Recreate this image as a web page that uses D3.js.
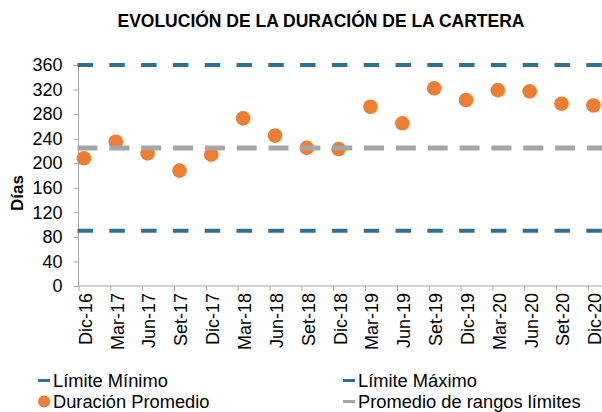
<!DOCTYPE html>
<html>
<head>
<meta charset="utf-8">
<script src="https://cdn.jsdelivr.net/npm/d3@7/dist/d3.min.js"></script>
<style>
  html, body { margin: 0; padding: 0; background: #fff; }
  svg { display: block; font-family: "Liberation Sans", Arial, sans-serif; }
</style>
</head>
<body>
<svg id="chart" width="602" height="412"></svg>
<script>
// ---- Data ----
const categories = ["Dic-16","Mar-17","Jun-17","Set-17","Dic-17","Mar-18","Jun-18","Set-18","Dic-18",
                    "Mar-19","Jun-19","Set-19","Dic-19","Mar-20","Jun-20","Set-20","Dic-20"];
const duracionPromedio = [208, 235, 216, 188, 214, 273, 245, 225, 223, 292, 265, 322, 303, 319, 317, 297, 294];
const limiteMinimo = 90;
const limiteMaximo = 360;
const promedioRangos = 225;
const yTicks = [0, 40, 80, 120, 160, 200, 240, 280, 320, 360];
const legendItems = ["Límite Mínimo", "Límite Máximo", "Duración Promedio", "Promedio de rangos límites"];
const titleText = "EVOLUCIÓN DE LA DURACIÓN DE LA CARTERA";
const yTitle = "Días";

// ---- Layout ----
const svg = d3.select("#chart");
const W = 602;
const plotLeft = 78.5, plotTop = 65, plotBottom = 286;
const step = 31.84;
const blue = "#2F7090", orange = "#ED7D31", gray = "#A5A5A5", axisCol = "#A6A6A6";

const x = d3.scaleLinear().domain([0, categories.length]).range([plotLeft, plotLeft + step * categories.length]);
const y = d3.scaleLinear().domain([0, 360]).range([plotBottom, plotTop]);
const pointOffset = 0.17;

// Title
svg.append("text")
  .attr("x", 321).attr("y", 27)
  .attr("text-anchor", "middle")
  .style("font-weight", "bold").style("font-size", "17.5px").attr("fill", "#000")
  .text(titleText);

// Y axis
const yAxis = d3.axisLeft(y).tickValues(yTicks).tickSize(5).tickPadding(11).tickFormat(d3.format("d"));
const gy = svg.append("g").attr("transform", `translate(${plotLeft},0)`).call(yAxis);
gy.select(".domain").remove();
gy.selectAll(".tick line").attr("stroke", axisCol);
gy.selectAll(".tick text").style("font-size", "18px").attr("fill", "#000")
  .style("font-family", "'Liberation Sans', Arial, sans-serif");
gy.append("line").attr("x1", 0).attr("x2", 0).attr("y1", plotTop).attr("y2", plotBottom).attr("stroke", axisCol);

// X axis
const xAxis = d3.axisBottom(x).tickValues(d3.range(categories.length)).tickSize(5)
  .tickFormat(i => categories[i]);
const gx = svg.append("g").attr("transform", `translate(0,${plotBottom})`).call(xAxis);
gx.select(".domain").remove();
gx.selectAll(".tick line").attr("stroke", axisCol);
gx.selectAll(".tick text")
  .style("font-size", "18px").attr("fill", "#000")
  .style("font-family", "'Liberation Sans', Arial, sans-serif")
  .attr("text-anchor", "end")
  .attr("transform", "rotate(-90)")
  .attr("x", -7).attr("y", 6.5).attr("dy", "0.35em");
gx.append("line").attr("x1", plotLeft).attr("x2", W).attr("y1", 0).attr("y2", 0).attr("stroke", axisCol);

// Y title
svg.append("text")
  .attr("transform", `translate(17,193) rotate(-90)`)
  .attr("text-anchor", "middle").attr("dy", "0.35em")
  .style("font-weight", "bold").style("font-size", "17px")
  .text(yTitle);

// Limit lines
function hline(v, color, width, dash) {
  svg.append("line")
    .attr("x1", plotLeft - 1).attr("x2", W)
    .attr("y1", y(v)).attr("y2", y(v))
    .attr("stroke", color).attr("stroke-width", width)
    .attr("stroke-dasharray", dash);
}
hline(limiteMinimo, blue, 4, "15.5,16.3");
hline(limiteMaximo, blue, 4, "15.5,16.3");

// Points
svg.append("g").selectAll("circle").data(duracionPromedio).join("circle")
  .attr("cx", (d, i) => x(i + pointOffset))
  .attr("cy", d => y(d))
  .attr("r", 7.3)
  .attr("fill", orange);

hline(promedioRangos, gray, 5, "20,11.84");

// Legend
const lg = svg.append("g");
const legendPos = [
  {x: 38, y: 380.5, type: "line", color: blue},
  {x: 343, y: 380.5, type: "line", color: blue},
  {x: 38, y: 401.5, type: "dot", color: orange},
  {x: 343, y: 401.5, type: "line", color: gray}
];
legendItems.forEach((t, i) => {
  const p = legendPos[i];
  if (p.type === "line") {
    lg.append("rect").attr("x", p.x).attr("y", p.y - 1.5).attr("width", 12).attr("height", 3).attr("fill", p.color);
  } else {
    lg.append("circle").attr("cx", p.x + 6).attr("cy", p.y).attr("r", 6).attr("fill", p.color);
  }
  lg.append("text").attr("x", p.x + 15).attr("y", p.y).attr("dy", "0.35em")
    .style("font-size", "18.3px").attr("fill", "#000").text(t);
});
</script>
</body>
</html>
